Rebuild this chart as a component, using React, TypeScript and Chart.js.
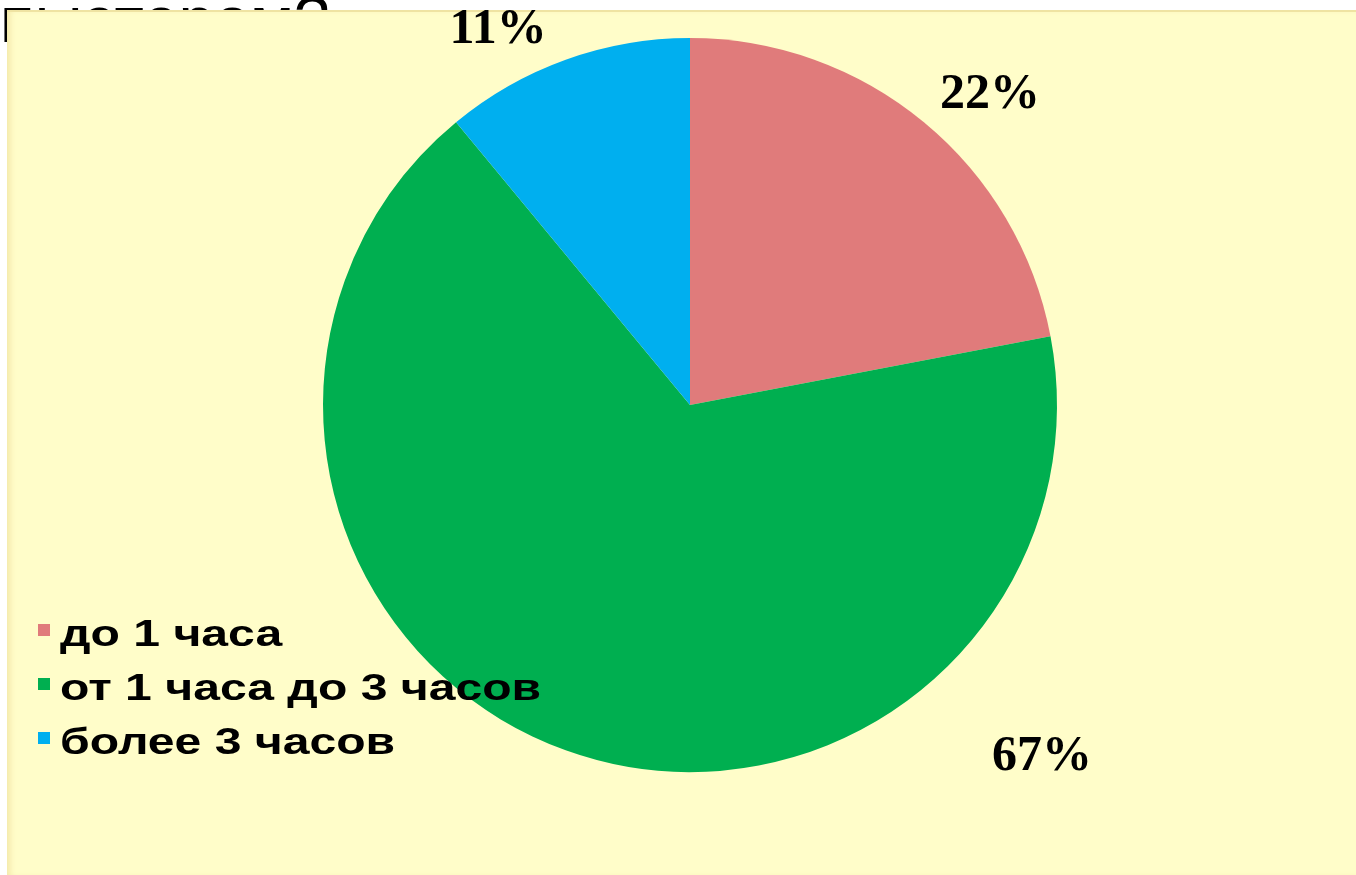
import React, { useEffect, useRef } from "react";
import { Chart, registerables } from "chart.js";

Chart.register(...registerables);

const categories = ["до 1 часа", "от 1 часа до 3 часов", "более 3 часов"];
const shares = [22, 67, 11];
const valueLabels = ["22%", "67%", "11%"];
const sliceColors = ["#E07B7B", "#00AF50", "#00AFEF"];
const headingFragment = "пьютером?";

const labelPlugin = {
  id: "sliceLabels",
  afterDatasetsDraw(chart: any, _args: any, opts: any) {
    const meta = chart.getDatasetMeta(0);
    const ctx = chart.ctx;
    ctx.save();
    ctx.font = opts.font;
    ctx.fillStyle = opts.color;
    ctx.textAlign = "center";
    ctx.textBaseline = "middle";
    meta.data.forEach((arc: any, i: number) => {
      const p = opts.placement[i];
      const a = (p.angle * Math.PI) / 180;
      const r = arc.outerRadius * p.radius;
      const x = arc.x + r * Math.sin(a);
      const y = arc.y - r * Math.cos(a);
      ctx.fillText(opts.texts[i], x, y);
    });
    ctx.restore();
  },
};

const legendPlugin = {
  id: "leftLegend",
  afterDraw(chart: any, _args: any, opts: any) {
    const ctx = chart.ctx;
    const labels = chart.data.labels as string[];
    const bg = chart.data.datasets[0].backgroundColor as string[];
    ctx.save();
    labels.forEach((lbl, i) => {
      const base = opts.y + i * opts.rowGap;
      ctx.fillStyle = bg[i];
      ctx.fillRect(opts.x, base - opts.boxOffset, opts.box, opts.box);
      ctx.save();
      ctx.translate(opts.textX, base);
      ctx.scale(opts.scaleX, 1);
      ctx.font = opts.font;
      ctx.fillStyle = "#000";
      ctx.textBaseline = "alphabetic";
      ctx.fillText(lbl, 0, 0);
      ctx.restore();
    });
    ctx.restore();
  },
};

export default function App() {
  const ref = useRef<HTMLCanvasElement | null>(null);

  useEffect(() => {
    if (!ref.current) return;
    const chart = new Chart(ref.current, {
      type: "pie",
      data: {
        labels: categories,
        datasets: [
          {
            data: shares,
            backgroundColor: sliceColors,
            borderWidth: 0,
          },
        ],
      },
      options: {
        responsive: false,
        animation: false,
        layout: { padding: { top: 38, left: 323, right: 299, bottom: 103 } },
        plugins: {
          legend: { display: false },
          tooltip: { enabled: false },
          sliceLabels: {
            font: "bold 50px 'Liberation Serif', 'Times New Roman', serif",
            color: "#000",
            texts: valueLabels,
            placement: [
              { angle: 44.1, radius: 1.175 },
              { angle: 135, radius: 1.356 },
              { angle: -27.1, radius: 1.148 },
            ],
          },
          leftLegend: {
            x: 38,
            textX: 60,
            y: 646,
            rowGap: 54,
            box: 12,
            boxOffset: 22,
            scaleX: 1.3,
            font: "bold 37px 'Liberation Sans', Arial, sans-serif",
          },
        } as any,
      },
      plugins: [labelPlugin, legendPlugin],
    });
    return () => chart.destroy();
  }, []);

  return (
    <div
      style={{
        position: "fixed",
        left: 0,
        top: 0,
        width: 1356,
        height: 875,
        background: "#ffffff",
        overflow: "hidden",
      }}
    >
      <div
        style={{
          position: "absolute",
          left: 0,
          top: -12,
          fontFamily: "'Liberation Sans', Arial, sans-serif",
          fontSize: 64,
          lineHeight: "64px",
          color: "#000",
          whiteSpace: "nowrap",
        }}
      >
        {headingFragment}
      </div>
      <div
        style={{
          position: "absolute",
          left: 7,
          top: 10,
          width: 1349,
          height: 865,
          background: "#FFFDC9",
          borderTop: "2px solid #EFE3A2",
          boxShadow: "inset 6px 0 6px -3px #F3E7A8",
          boxSizing: "border-box",
        }}
      />
      <canvas
        ref={ref}
        width={1356}
        height={875}
        style={{ position: "absolute", left: 0, top: 0, width: 1356, height: 875 }}
      />
    </div>
  );
}
